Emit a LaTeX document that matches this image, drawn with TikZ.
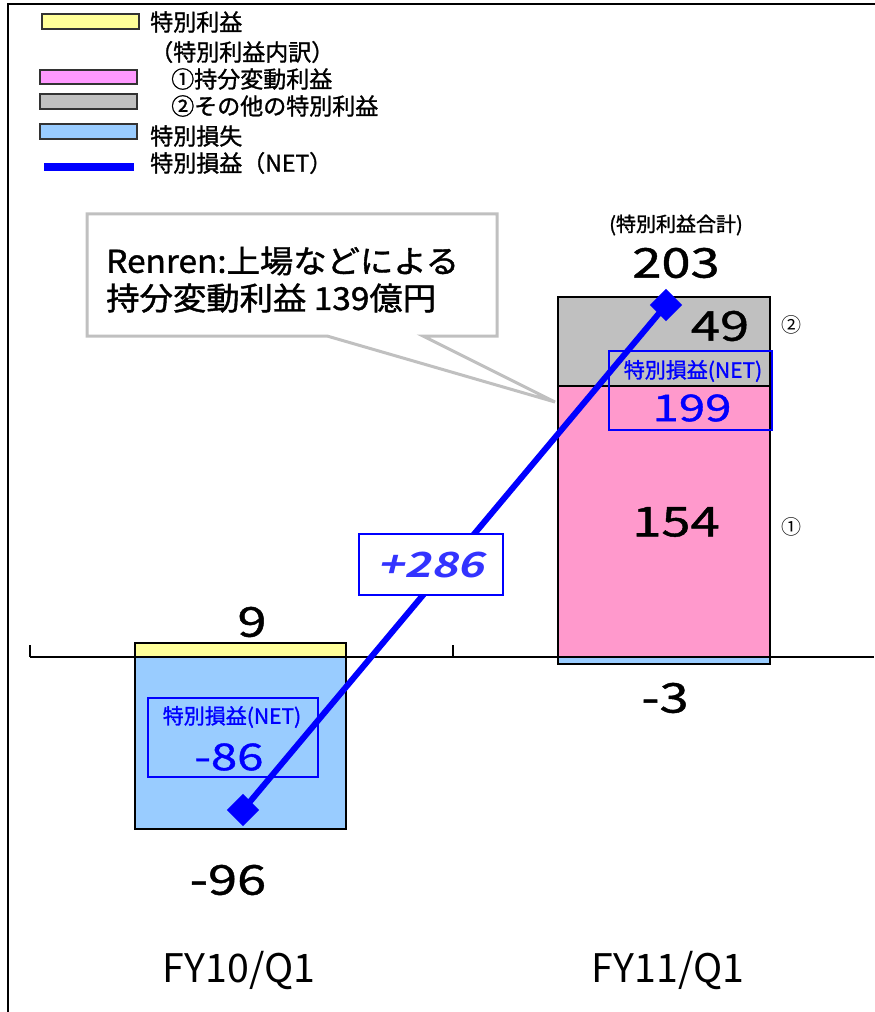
\documentclass[tikz,border=0pt]{standalone}
\usepackage{fontspec}
\setmainfont{Noto Sans CJK JP}[FakeBold=1.3]
\newfontfamily\numf{Noto Sans CJK JP}[FakeStretch=1.28,FakeBold=1.1]
\newfontfamily\calf{Noto Sans CJK JP}[FakeStretch=1.06,FakeBold=1.3]
\newfontfamily\catf{Noto Sans CJK JP}[FakeStretch=1.0]
\newfontfamily\plusf{Noto Sans CJK JP Bold}[FakeStretch=1.3,FakeSlant=0.25]
\newcommand\fsz[1]{\fontsize{#1}{#1}\selectfont}
\definecolor{ylw}{HTML}{FFFF99}
\definecolor{lpink}{HTML}{FF99FF}
\definecolor{bpink}{HTML}{FF99CC}
\definecolor{gry}{HTML}{C0C0C0}
\definecolor{lblue}{HTML}{99CCFF}
\definecolor{netblue}{HTML}{0000FF}
\definecolor{plusblue}{HTML}{3333FF}
\tikzset{
  legtxt/.style={anchor=west,inner sep=0pt,font=\fsz{17.25}},
  legbox/.style={draw=black!80,line width=0.9pt},
  barbox/.style={draw=black,line width=1.5pt},
  bignum/.style={inner sep=0pt,font=\numf\fsz{30.75}},
  bluenum/.style={inner sep=0pt,text=netblue,font=\numf\fsz{27.75}},
  netlbl/.style={inner sep=0pt,text=netblue,font=\fsz{15.75}},
  netbox/.style={draw=netblue,line width=1.1pt},
  marker/.style={inner sep=0pt,font=\catf\fsz{15}},
  cattxt/.style={inner sep=0pt,font=\catf\fsz{29.5}},
  diam/.style={fill=netblue,minimum size=17pt,inner sep=0pt,rotate=45,draw=none,shape=rectangle}
}
\begin{document}
\begin{tikzpicture}[x=0.75pt,y=-0.75pt]
\useasboundingbox (0,0) rectangle (874,1012);
% frame
\draw[line width=2pt,black] (8,1013) -- (8,4) -- (875,4);
% legend
\draw[legbox,fill=ylw] (42,14) rectangle (139,29);
\node[legtxt] (l1) at (150,22) {特別利益};
\node[legtxt] (l2) at (150,52) {（特別利益内訳）};
\draw[legbox,fill=lpink] (40,70) rectangle (137,84);
\node[legtxt] (l3) at (171,79) {①持分変動利益};
\draw[legbox,fill=gry] (40,94) rectangle (137,109);
\node[legtxt] (l4) at (171,106) {②その他の特別利益};
\draw[legbox,fill=lblue] (40,124) rectangle (137,139);
\node[legtxt] (l5) at (150,136) {特別損失};
\draw[netblue,line width=6pt] (44,167) -- (134,167);
\node[legtxt] (l6) at (150,163) {特別損益（NET）};
% callout
\draw[gry,line width=2.25pt,fill=white] (87,214) -- (497,214) -- (497,336) -- (423,336) -- (555,402) -- (327,336) -- (87,336) -- cycle;
\node[anchor=west,inner sep=0pt,font=\calf\fsz{23.6}] (c1) at (106,261) {Renren:上場などによる};
\node[anchor=west,inner sep=0pt,font=\calf\fsz{23.6}] (c2) at (106,298) {持分変動利益 139億円};
% axis
\draw[black,line width=1.1pt] (30,657) -- (874,657);
\draw[black,line width=1.1pt] (30,645) -- (30,657);
\draw[black,line width=1.1pt] (453,645) -- (453,657);
% left bar
\draw[barbox,fill=ylw] (135,643) rectangle (346,657);
\draw[barbox,fill=lblue] (135,657) rectangle (346,829);
% right bar
\draw[barbox,fill=gry] (558,297) rectangle (770,386);
\draw[barbox,fill=bpink] (558,386) rectangle (770,657);
\draw[barbox,fill=lblue] (558,657) rectangle (770,664);
% net boxes
\draw[netbox] (148,698) rectangle (318,777);
\node[netlbl] (n1) at (232,717) {特別損益(NET)};
\node[bluenum] (v1) at (229,757) {-86};
\draw[netbox] (609,351) rectangle (772,430);
\node[netlbl] (n2) at (693,371) {特別損益(NET)};
\node[bluenum] (v2) at (692,408) {199};
% values
\node[bignum] (t9) at (252,622) {9};
\node[bignum] (t96) at (228,880) {-96};
\node[bignum] (t3) at (665,698) {-3};
\node[bignum] (t49) at (720,326) {49};
\node[bignum] (t154) at (676,522) {154};
\node[bignum] (t203) at (676,263) {203};
\node[inner sep=0pt,font=\fsz{15}] (tot) at (676,225) {(特別利益合計)};
\node[marker] (m2) at (791,325) {②};
\node[marker] (m1) at (791,527) {①};
% net line
\node[diam] (d1) at (243,810) {};
\node[diam] (d2) at (666,305) {};
\draw[netblue,line width=4.5pt] (d1.center) -- (d2.center);
\node[draw=netblue,line width=1.1pt,fill=white,minimum width=108pt,minimum height=45.75pt,inner sep=0pt,text=plusblue,font=\plusf\fsz{26}] (plus) at (431,564.5) {+286};
% categories
\node[cattxt] (fy10) at (239,970) {FY10/Q1};
\node[cattxt] (fy11) at (668,970) {FY11/Q1};
\end{tikzpicture}
\end{document}
